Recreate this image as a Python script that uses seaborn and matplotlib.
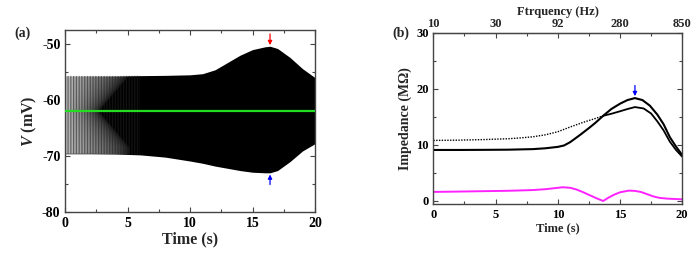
import numpy as np
import pandas as pd
import seaborn as sns
import matplotlib
matplotlib.use("Agg")
import matplotlib.pyplot as plt
from matplotlib.ticker import MultipleLocator

# panel (a): envelope of the membrane potential trace
env_t = [0, 2, 4, 6, 8, 10, 11, 12, 13, 14, 15, 16, 16.4, 17, 18, 19, 20]
env_upper = [-55.7, -55.7, -55.7, -55.65, -55.6, -55.5, -55.3, -54.6, -53.3, -52.0, -51.0, -50.5, -50.4,
             -50.8, -52.4, -54.4, -56.0]
env_lower = [-69.6, -69.6, -69.65, -69.8, -70.2, -70.9, -71.3, -71.8, -72.2, -72.6, -72.9, -73.0, -73.0,
             -72.6, -71.0, -69.1, -67.8]
rest_v = -62.0

# panel (b): impedance curves
t_solid = [0, 2, 4, 6, 8, 9, 10, 10.5, 11, 11.8, 12.5, 13, 13.65, 14.3, 15, 15.6, 16.2, 16.8, 17.4,
           18, 18.5, 19, 19.5, 20]
z_solid = [9.1, 9.1, 9.12, 9.15, 9.25, 9.4, 9.65, 9.9, 10.5, 11.8, 13.0, 13.9, 15.2, 16.4, 17.35, 18.0,
           18.35, 18.0, 17.0, 15.4, 13.7, 11.4, 9.7, 8.2]
t_dotted = [0, 2, 4, 6, 7, 8, 9, 10, 11, 12, 13, 13.65, 14.3, 15, 15.6, 16.2, 16.9, 17.5, 18, 18.5,
            19, 19.5, 20]
z_dotted = [10.8, 10.85, 10.95, 11.1, 11.25, 11.45, 11.8, 12.35, 13.2, 14.0, 14.7, 15.2, 15.55, 16.0,
            16.4, 16.75, 16.5, 15.6, 14.2, 12.6, 10.6, 9.1, 7.9]
t_mag = [0, 2, 4, 6, 8, 9, 10, 10.4, 11, 11.5, 12, 12.6, 13.1, 13.65, 14, 14.5, 15, 15.7, 16.2, 16.7,
         17.2, 17.7, 18.2, 18.8, 19.5, 20]
z_mag = [1.62, 1.68, 1.75, 1.82, 1.95, 2.1, 2.35, 2.45, 2.35, 2.05, 1.6, 1.0, 0.5, 0.0, 0.5, 1.1, 1.55,
         1.85, 1.8, 1.6, 1.2, 0.8, 0.55, 0.42, 0.35, 0.3]
t_cross = 13.65
freq_ticks = [0, 5, 10, 15, 20]
freq_labels = ["10", "30", "92", "280", "850"]

sns.set_style("ticks")
plt.rcParams["font.family"] = ["Liberation Serif", "DejaVu Serif"]
plt.rcParams["font.weight"] = "bold"
plt.rcParams["axes.labelweight"] = "bold"
plt.rcParams["mathtext.fontset"] = "custom"
plt.rcParams["mathtext.bfit"] = "Liberation Serif:italic:bold"
plt.rcParams["hatch.linewidth"] = 0.9

fig = plt.figure(figsize=(6.99, 2.58), dpi=100)
ax1 = fig.add_axes([0.0934, 0.1783, 0.3572, 0.7054])
ax2 = fig.add_axes([0.620, 0.209, 0.356, 0.664])


def style_ax(ax):
    for s in ax.spines.values():
        s.set_linewidth(1.0)
        s.set_color("#444444")
    ax.tick_params(which="both", direction="in", top=True, right=True, width=0.8, colors="#444444",
                   labelcolor="black")
    ax.tick_params(which="major", length=3.5)
    ax.tick_params(which="minor", length=2.5)


# ---- panel (a)
band = ax1.fill_between(env_t, env_lower, env_upper, color="black", linewidth=0)
# low-frequency start of the trace is resolved, so it looks grey and striped
gx = np.linspace(0, 20, 400)
gy = np.linspace(-80, -47.5, 200)
GX, GY = np.meshgrid(gx, gy)
edge = 2.7 + 2.5 * np.clip(np.abs(GY - rest_v) / 6.5, 0, 1)
fade = np.clip(1 - GX / edge, 0, 1) ** 0.6 * 0.75
rgba = np.ones(GX.shape + (4,))
rgba[..., 3] = fade
img = ax1.imshow(rgba, extent=(0, 20, -80, -47.5), origin="lower", aspect="auto", zorder=2,
                 interpolation="bilinear")
img.set_clip_path(band.get_paths()[0], transform=ax1.transData)
early = np.array(env_t) <= 6
stripes = ax1.fill_between(np.array(env_t)[early], np.array(env_lower)[early],
                           np.array(env_upper)[early], facecolor="none", edgecolor="#222222",
                           hatch="||||||", linewidth=0, zorder=2.5, alpha=0.55)
sns.lineplot(x=[env_t[0], env_t[-1]], y=[rest_v, rest_v], ax=ax1, color="#22dd22", linewidth=1.6,
             zorder=3)
ax1.annotate("", xy=(16.4, -50.2), xytext=(16.4, -48.2),
             arrowprops=dict(arrowstyle="-|>", color="red", lw=0.9, mutation_scale=6,
                             shrinkA=0, shrinkB=0))
ax1.annotate("", xy=(16.4, -73.3), xytext=(16.4, -75.1),
             arrowprops=dict(arrowstyle="-|>", color="blue", lw=0.9, mutation_scale=6,
                             shrinkA=0, shrinkB=0))
ax1.set_xlim(0, 20)
ax1.set_ylim(-80, -47.5)
ax1.xaxis.set_major_locator(MultipleLocator(5))
ax1.xaxis.set_minor_locator(MultipleLocator(2.5))
ax1.yaxis.set_minor_locator(MultipleLocator(5))
style_ax(ax1)
ax1.tick_params(labelsize=10)
ax1.set_yticks([-80, -70, -60, -50])
ax1.set_yticklabels(["-80", "-70", "-60", "-50"], fontsize=10, fontweight="bold")
ax1.set_xlabel("Time (s)", fontsize=11.5, labelpad=1)
ax1.set_ylabel(r"$\mathbfit{V}$ (mV)", fontsize=11.5, labelpad=2)
fig.text(0.02, 0.872, "(a)", fontsize=10, fontweight="bold", ha="left", va="center")

# ---- panel (b)
dfs = pd.DataFrame({"t": t_solid, "z": z_solid})
dfd = pd.DataFrame({"t": t_dotted, "z": z_dotted})
dfm = pd.DataFrame({"t": t_mag, "z": z_mag})
sns.lineplot(data=dfd[dfd["t"] <= t_cross], x="t", y="z", ax=ax2, color="black", linewidth=1.0,
             linestyle=(0, (1, 1)))
sns.lineplot(data=dfd[dfd["t"] >= t_cross], x="t", y="z", ax=ax2, color="black", linewidth=1.3)
sns.lineplot(data=dfs, x="t", y="z", ax=ax2, color="black", linewidth=1.5)
sns.lineplot(data=dfm, x="t", y="z", ax=ax2, color="#ff22ff", linewidth=1.4)
ax2.annotate("", xy=(16.2, 18.7), xytext=(16.2, 20.6),
             arrowprops=dict(arrowstyle="-|>", color="blue", lw=0.9, mutation_scale=6,
                             shrinkA=0, shrinkB=0))
ax2.set_xlim(0, 20)
ax2.set_ylim(-0.55, 30)
ax2.xaxis.set_major_locator(MultipleLocator(5))
ax2.xaxis.set_minor_locator(MultipleLocator(2.5))
ax2.yaxis.set_major_locator(MultipleLocator(10))
ax2.yaxis.set_minor_locator(MultipleLocator(5))
style_ax(ax2)
ax2.tick_params(labelsize=9)
ax2.set_xlabel("Time (s)", fontsize=9, labelpad=1)
ax2.set_ylabel("Impedance (MΩ)", fontsize=10, labelpad=3)
top = ax2.secondary_xaxis("top")
top.set_xticks(freq_ticks)
top.set_xticklabels(freq_labels, fontsize=9, fontweight="bold")
top.tick_params(direction="in", length=0, pad=2)
top.set_xlabel("Ftrquency (Hz)", fontsize=9, fontweight="bold", labelpad=2)
fig.text(0.562, 0.872, "(b)", fontsize=10, fontweight="bold", ha="left", va="center")

fig.savefig("out.png", dpi=100)
